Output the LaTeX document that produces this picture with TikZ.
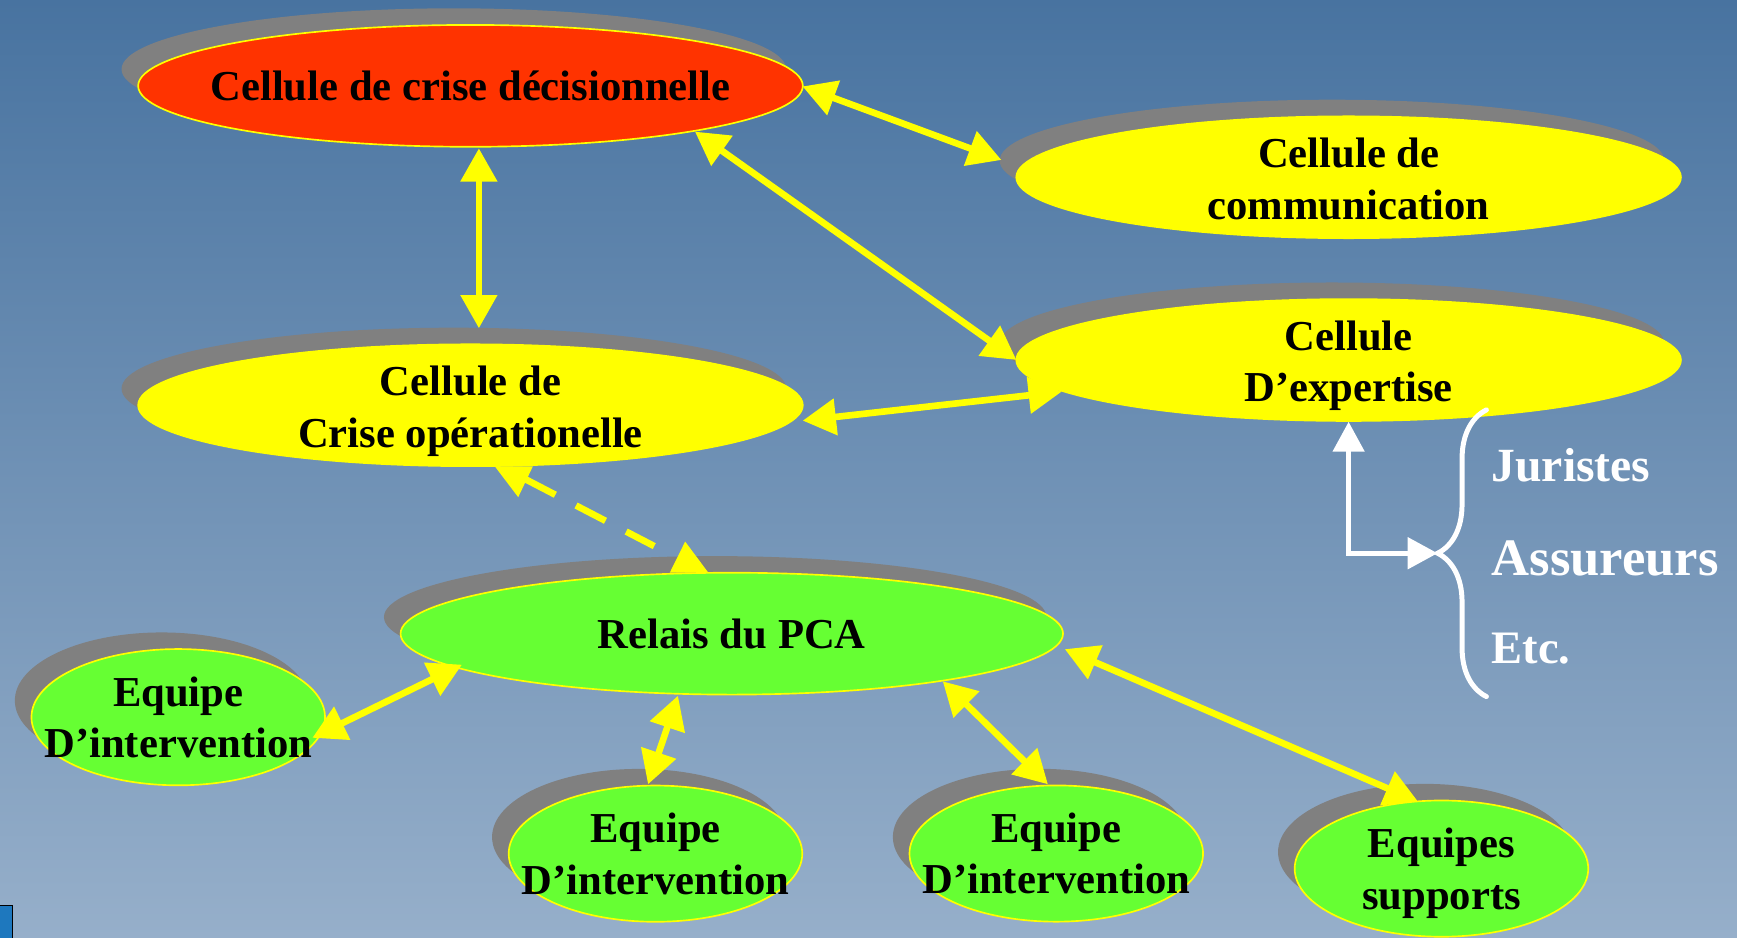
\documentclass[tikz,border=0pt]{standalone}
\usepackage{fontspec}
\setmainfont{Liberation Serif}
\usetikzlibrary{shapes.geometric,arrows.meta,shadows,decorations.pathreplacing,calc}
\definecolor{bgtop}{RGB}{72,115,160}
\definecolor{bgbot}{RGB}{150,175,202}
\definecolor{cred}{RGB}{255,51,0}
\definecolor{cyel}{RGB}{255,255,0}
\definecolor{cgreen}{RGB}{102,255,51}
\definecolor{cshadow}{RGB}{128,128,128}
\definecolor{iconblue}{RGB}{30,120,190}
\begin{document}
\begin{tikzpicture}[x=1pt,y=-1pt,
  cell/.style={ellipse, draw=cyel, line width=1.5pt, inner sep=0pt,
    drop shadow={shadow xshift=-15pt, shadow yshift=15pt, fill=cshadow, opacity=1}},
  bigcell/.style={cell, minimum width=600pt, minimum height=110pt},
  smallcell/.style={cell, minimum width=265pt, minimum height=123pt},
  lbl/.style={align=center, font=\fontsize{38.5}{46.5}\selectfont\bfseries, text=black, inner sep=0pt},
  wlbl/.style={anchor=base west, font=\bfseries, text=white, inner sep=0pt},
  yarr/.style={draw=cyel, line width=6pt,
    arrows={Triangle[length=30pt,width=32pt]-Triangle[length=30pt,width=32pt]}},
  ydash/.style={draw=cyel, line width=6pt, dash pattern=on 30pt off 21pt},
  warr/.style={draw=white, line width=4.5pt,
    arrows={Triangle[length=27pt,width=28pt]-Triangle[length=27pt,width=28pt]}},
  wbrace/.style={draw=white, line width=4.5pt, line cap=round, decorate,
    decoration={brace, amplitude=44pt}}
]
\useasboundingbox (0,0) rectangle (1568,846);
\fill[top color=bgtop, bottom color=bgbot] (0,0) rectangle (1568,846);

% nodes
\node[bigcell, fill=cred] (red) at (424.7,77.5) {};
\node[bigcell, fill=cyel] (comm) at (1217.4,160) {};
\node[bigcell, fill=cyel] (exp) at (1217.4,325) {};
\node[bigcell, fill=cyel] (crop) at (424.7,365.8) {};
\node[bigcell, fill=cgreen, minimum width=598pt] (relais) at (660.6,572) {};
\node[smallcell, fill=cgreen] (eqL) at (160.9,647.4) {};
\node[smallcell, fill=cgreen] (eqM) at (591.7,770.6) {};
\node[smallcell, fill=cgreen] (eqR) at (953.5,770.5) {};
\node[smallcell, fill=cgreen] (eqS) at (1301.2,784.1) {};

\node[lbl] (redT) at (red) {Cellule de crise décisionnelle};
\node[lbl] (commT) at ([yshift=-1.5pt]comm.center) {Cellule de\\communication};
\node[lbl] (expT) at ([yshift=-5pt]exp.center) {Cellule\\D’expertise};
\node[lbl] (cropT) at ([yshift=-5.5pt]crop.center) {Cellule de\\Crise opérationelle};
\node[lbl] (relaisT) at (relais) {Relais du PCA};
\node[lbl] (eqLT) at (eqL) {Equipe\\D’intervention};
\node[lbl] (eqMT) at (eqM) {Equipe\\D’intervention};
\node[lbl] (eqRT) at (eqR) {Equipe\\D’intervention};
\node[lbl] (eqST) at ([yshift=-4pt]eqS.center) {Equipes\\supports};

% yellow connectors
\draw[yarr] ([shift={(299.7,0.5)}]red.center) -- ([shift={(-313.4,-15.6)}]comm.center);
\draw[yarr] ([shift={(202.6,41.3)}]red.center) -- ([shift={(-299.9,-0.1)}]exp.center);
\draw[yarr] ([shift={(7.6,56.4)}]red.center) -- ([shift={(7.6,-69.5)}]crop.center);
\draw[yarr] ([shift={(-258.9,28.5)}]exp.center) -- ([shift={(299.9,13.9)}]crop.center);
\draw[yarr] ([shift={(-243.6,28)}]relais.center) -- ([shift={(121.1,18.6)}]eqL.center);
\draw[yarr] ([shift={(-48.6,56)}]relais.center) -- ([shift={(-6.7,-62.6)}]eqM.center);
\draw[yarr] ([shift={(190.4,43)}]relais.center) -- ([shift={(-7.5,-62.5)}]eqR.center);
\draw[yarr] ([shift={(300.6,14)}]relais.center) -- ([shift={(-21.2,-60.6)}]eqS.center);

% dashed connector
\draw[ydash] ([shift={(50,67)}]crop.center) -- ([shift={(-70,-79)}]relais.center);
\fill[cyel] ([shift={(22,55.2)}]crop.center) -- ([shift={(56.3,55.2)}]crop.center)
  -- ([shift={(43.1,83)}]crop.center) -- cycle;
\fill[cyel] ([shift={(-55.9,-55.2)}]relais.center) -- ([shift={(-21.3,-55.2)}]relais.center)
  -- ([shift={(-42.1,-83.1)}]relais.center) -- cycle;

% expertise brace
\coordinate (brB) at (1341.8,628.8);
\coordinate (brT) at (1341.8,370);
\coordinate (brtip) at (1297.7,499.4);
\draw[wbrace] (brB) -- (brT);
\draw[warr] (exp.south) |- (brtip);
\node[wlbl, font=\fontsize{43}{50}\selectfont\bfseries] (jur) at (1346.3,434.7) {Juristes};
\node[wlbl, font=\fontsize{47.5}{54}\selectfont\bfseries] (ass) at (1346.3,519.9) {Assureurs};
\node[wlbl, font=\fontsize{42}{50}\selectfont\bfseries] (etc) at (1346.3,598.7) {Etc.};

% corner icon
\draw[black, line width=1pt, fill=iconblue] (-2,817) rectangle (11,848);
\end{tikzpicture}
\end{document}
